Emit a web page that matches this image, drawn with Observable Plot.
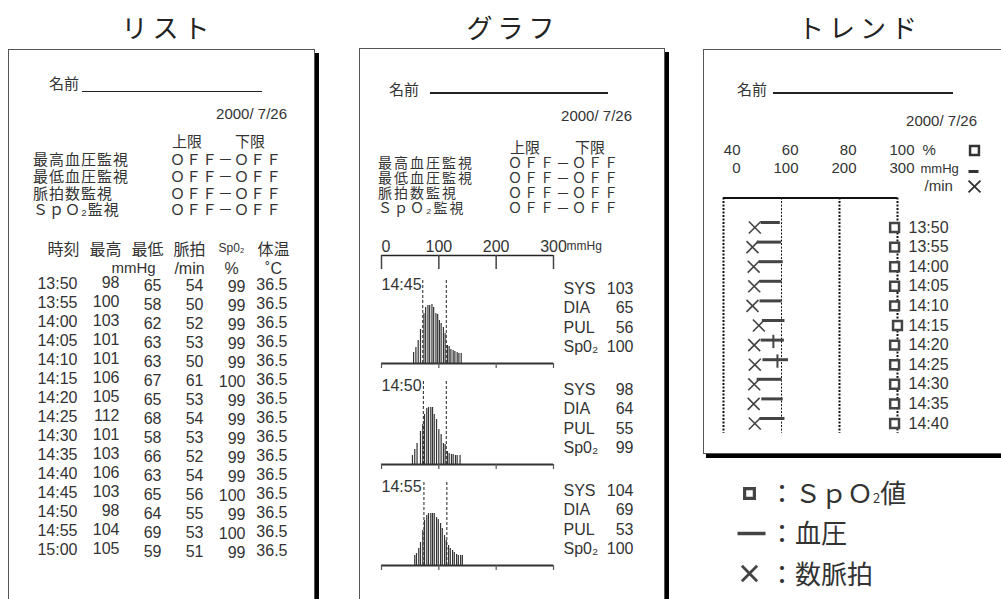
<!DOCTYPE html>
<html><head><meta charset="utf-8">
<script src="https://cdn.jsdelivr.net/npm/d3@7"></script>
<script src="https://cdn.jsdelivr.net/npm/@observablehq/plot@0.6"></script>
<style>
html,body{margin:0;padding:0;background:#fff;}
#root{position:relative;width:1001px;height:599px;overflow:hidden;background:#fff;font-family:"Noto Sans CJK JP",sans-serif;color:#333;}
.abs{position:absolute;white-space:nowrap;line-height:1;}
.panel{position:absolute;box-sizing:border-box;background:#fff;border:1px solid #555;box-shadow:4px 4px 0 #000;}
svg.ovl{position:absolute;left:0;top:0;pointer-events:none;}
</style></head>
<body><div id="root"></div>
<script>
// ---------- data ----------
const listTimes = ["13:50","13:55","14:00","14:05","14:10","14:15","14:20","14:25","14:30","14:35","14:40","14:45","14:50","14:55","15:00"];
const sysValues = [98,100,103,101,101,106,105,112,101,103,106,103,98,104,105];
const diaValues = [65,58,62,63,63,67,65,68,58,66,63,65,64,69,59];
const pulseValues = [54,50,52,53,50,61,53,54,53,52,54,56,55,53,51];
const spo2Values = [99,99,99,99,99,100,99,99,99,99,99,100,99,100,99];
const tempValues = [36.5,36.5,36.5,36.5,36.5,36.5,36.5,36.5,36.5,36.5,36.5,36.5,36.5,36.5,36.5];
const tableColumns = ["time","sys","dia","pul","spo2","temp"];
const tableHeaders = ["時刻","最高","最低","脈拍","Sp0₂","体温"];
const tableUnits = ["","mmHg","","/min","%","˚C"];

const panelTitles = ["リスト","グラフ","トレンド"];
const monitorLabels = ["最高血圧監視","最低血圧監視","脈拍数監視","ＳｐＯ₂監視"];
const monitorValue = "ＯＦＦ－ＯＦＦ";
const dateText = "2000/ 7/26";

const graphTimes = ["14:45","14:50","14:55"];
const graphSys = [103,98,104];
const graphDia = [65,64,69];
const graphPul = [56,55,53];
const graphSpo2 = [100,99,100];
const graphReadingLabels = ["SYS","DIA","PUL","Sp0₂"];
const graphTicks = [0,100,200,300];
const cuffLow = [72,73,74];
const cuffHigh = [113,113,114];
const histP1 = [56,60,64,68,74,77,81,84,88,91,95,98,101,104,108,111,115,118,121,125,128,132,135,139];
const histA1 = [11,16,23,34,50,56,58,58,59,56,50,49,43,40,36,30,18,17,14,13,12,11,10,10];
const histP2 = [54,58,62,68,72,75,79,82,86,89,92,96,100,104,108,111,115,118,122,125,129,132,137];
const histA2 = [9,15,21,33,40,50,56,57,57,57,50,45,35,30,21,20,13,11,10,10,9,9,9];
const histP3 = [58,61,65,68,72,75,79,82,86,89,92,96,99,103,106,110,113,117,120,124,127,131,134,138,141];
const histA3 = [10,12,17,23,35,45,50,52,52,52,52,48,46,42,37,30,25,20,17,15,13,11,10,10,10];

const trendTimes = ["13:50","13:55","14:00","14:05","14:10","14:15","14:20","14:25","14:30","14:35","14:40"];
const trendPctTicks = [40,60,80,100];
const trendBpTicks = [0,100,200,300];
const trendMeanMarks = [null,null,null,null,null,null,86,93,null,null,null];
const legendLabels = ['：ＳｐＯ<span style="font-size:13px">2</span>値', "：血圧", "：数脈拍"];

// ---------- helpers ----------
const CJK = '"Noto Sans CJK JP", sans-serif';
const SANS = '"Liberation Sans", Arial, sans-serif';
const INK = "#333";
const root = document.getElementById("root");

function label(text, x, y, o = {}) {
  const el = document.createElement("div");
  el.className = "abs";
  el.style.left = x + "px"; el.style.top = y + "px";
  el.style.fontSize = (o.size || 16) + "px";
  el.style.fontFamily = o.font || CJK;
  el.style.color = o.color || INK;
  if (o.ls) el.style.letterSpacing = o.ls + "px";
  if (o.weight) el.style.fontWeight = o.weight;
  const tx = o.anchor === "middle" ? "-50%" : o.anchor === "end" ? "-100%" : "0";
  el.style.transform = `translate(${tx},-50%)`;
  if (o.html) el.innerHTML = text; else el.textContent = text;
  root.appendChild(el);
}
function box(x, y, w, h, css) {
  const el = document.createElement("div");
  el.style.position = "absolute";
  el.style.left = x + "px"; el.style.top = y + "px";
  el.style.width = w + "px"; el.style.height = h + "px";
  Object.assign(el.style, css || {});
  root.appendChild(el);
  return el;
}
function panel(x, y, w, h) { const p = box(x, y, w, h); p.className = "panel"; }
function overlay(opts) {
  const svg = Plot.plot(Object.assign({
    width: 1001, height: 599, margin: 0,
    style: {background: "transparent", overflow: "visible"}
  }, opts));
  svg.classList.add("ovl");
  root.appendChild(svg);
}

// ---------- panels & static text ----------
panel(8, 49, 307, 560);
panel(359, 48, 306, 560);
box(703, 49, 320, 405, {boxSizing: "border-box", border: "1px solid #555", boxShadow: "3px 4px 0 #000", background: "#fff"});

const titleX = [165, 510, 857];
panelTitles.forEach((t, i) => label(t, titleX[i] + 3, 27, {size: 26, anchor: "middle", ls: 5, color: "#222"}));

const pane = [
  {nameX: 49, nameY: 82, lineX1: 82, lineX2: 262, lineY: 91, lineW: 1, dateR: 287, dateY: 113,
   limY: 140, upX: 172, loX: 235, rowX: 33, rowY: [158,175,192,208], rowSize: 15, rowLs: 1, valX: 170},
  {nameX: 389, nameY: 88, lineX1: 430, lineX2: 608, lineY: 92, lineW: 2, dateR: 632, dateY: 115,
   limY: 146, upX: 510, loX: 575, rowX: 378, rowY: [162,177,192,207], rowSize: 14, rowLs: 2, valX: 508},
  {nameX: 737, nameY: 88, lineX1: 773, lineX2: 953, lineY: 92, lineW: 1.5, dateR: 977, dateY: 120}
];
pane.forEach(p => {
  label("名前", p.nameX, p.nameY, {size: 15});
  box(p.lineX1, p.lineY, p.lineX2 - p.lineX1, p.lineW, {background: "#222"});
  label(dateText, p.dateR, p.dateY, {size: 15, font: SANS, anchor: "end"});
  if (p.rowY) {
    label("上限", p.upX, p.limY, {size: 15});
    label("下限", p.loX, p.limY, {size: 15});
    monitorLabels.forEach((m, i) => {
      label(m, p.rowX, p.rowY[i], {size: p.rowSize, ls: p.rowLs});
      label(monitorValue, p.valX, p.rowY[i], {size: p.rowSize, ls: p.rowLs});
    });
  }
});

// ---------- list table (Plot) ----------
const rows = listTimes.map((t, i) => ({
  time: t, sys: sysValues[i], dia: diaValues[i], pul: pulseValues[i],
  spo2: spo2Values[i], temp: tempValues[i].toFixed(1)
}));
const colDy = {time: 0, sys: -1, dia: 2, pul: 2, spo2: 3, temp: 1};
const headerData = tableColumns.map((c, i) => ({c, h: tableHeaders[i], u: tableUnits[i]}));
overlay({
  x: {type: "point", domain: tableColumns, range: [76, 287], padding: 0, axis: null},
  y: {type: "point", domain: listTimes, range: [279, 552], padding: 0, axis: null},
  marks: [
    ...tableColumns.map(c => Plot.text(rows, {
      x: () => c, y: "time", text: d => String(d[c]), textAnchor: "end",
      dy: colDy[c], fontSize: 16, fontFamily: SANS, fill: INK
    })),
    Plot.text(headerData.filter(d => d.c !== "spo2"), {x: "c", frameAnchor: "top", dy: 243, dx: -14, text: "h", fontSize: 16, fontFamily: CJK, fill: INK}),
    Plot.text(headerData.filter(d => d.c === "spo2"), {x: "c", frameAnchor: "top", dy: 243, dx: -14, text: "h", fontSize: 12, fontFamily: SANS, fill: INK}),
    Plot.text(headerData.filter(d => d.u === "mmHg"), {x: "c", frameAnchor: "top", dy: 262, dx: -8, text: "u", textAnchor: "start", fontSize: 15, fontFamily: SANS, fill: INK}),
    Plot.text(headerData.filter(d => d.u && d.u !== "mmHg"), {x: "c", frameAnchor: "top", dy: 262, dx: -14, text: "u", fontSize: 16, fontFamily: SANS, fill: INK})
  ]
});

// ---------- graph panel (Plot) ----------
overlay({
  x: {domain: [0, 300], range: [381, 553], axis: null},
  y: {domain: [0, 20], range: [269, 249], axis: null},
  marks: [
    Plot.ruleY([14], {x1: 0, x2: 300, stroke: "#222", strokeWidth: 1.5}),
    Plot.ruleX(graphTicks, {y1: 0, y2: 14, stroke: "#444", strokeWidth: 1.5}),
    Plot.text(graphTicks.filter(t => t > 0), {x: d => d, y: 23, text: d => String(d), fontSize: 16, fontFamily: SANS, fill: INK}),
    Plot.text(graphTicks.filter(t => t === 0), {x: d => d, y: 23, text: d => String(d), textAnchor: "start", fontSize: 16, fontFamily: SANS, fill: INK}),
    Plot.text(["mmHg"], {x: 300, y: 23, dx: 13, text: d => d, textAnchor: "start", fontSize: 12, fontFamily: SANS, fill: INK})
  ]
});
const histP = [histP1, histP2, histP3];
const histA = [histA1, histA2, histA3];
graphTimes.forEach((t, i) => {
  const base = 363 + i * 101;
  const hist = histP[i].map((p, j) => ({p, a: histA[i][j]}));
  const readings = [graphSys[i], graphDia[i], graphPul[i], graphSpo2[i]].map((v, j) => ({label: graphReadingLabels[j], value: String(v)}));
  overlay({
    x: {domain: [0, 300], range: [381, 553], axis: null},
    y: {domain: [0, 100], range: [base, base - 100], axis: null},
    marks: [
      Plot.ruleX(hist, {x: "p", y1: 0, y2: "a", stroke: "#333", strokeWidth: 1.2}),
      Plot.ruleX([cuffLow[i], cuffHigh[i]], {y1: 0, y2: 85, stroke: "#222", strokeWidth: 1, strokeDasharray: "3,2"}),
      Plot.ruleY([0], {x1: 0, x2: 300, stroke: "#333", strokeWidth: 2}),
      Plot.ruleX(graphTicks, {y1: 0, y2: -5, stroke: "#555", strokeWidth: 1.2}),
      Plot.text([t], {x: 0, y: 79, text: d => d, textAnchor: "start", fontSize: 16, fontFamily: SANS, fill: INK}),
      Plot.text(readings, {x: 300, y: (d, j) => 75 - 19.5 * j, dx: 10, text: "label", textAnchor: "start", fontSize: 16, fontFamily: SANS, fill: INK}),
      Plot.text(readings, {x: 300, y: (d, j) => 75 - 19.5 * j, dx: 80, text: "value", textAnchor: "end", fontSize: 16, fontFamily: SANS, fill: INK})
    ]
  });
});

// ---------- trend panel (Plot) ----------
const dash = {draw(ctx) { ctx.moveTo(-5, 0); ctx.lineTo(5, 0); }};
overlay({
  x: {domain: [0, 300], range: [723, 897], axis: null},
  y: {domain: [0, 2], range: [150, 186], axis: null},
  marks: [
    Plot.text(trendPctTicks, {x: d => (d - 40) * 5, y: 0, dx: 17, text: d => String(d), textAnchor: "end", fontSize: 15, fontFamily: SANS, fill: INK}),
    Plot.text(trendBpTicks, {x: d => d, y: 1, dx: 17, text: d => String(d), textAnchor: "end", fontSize: 15, fontFamily: SANS, fill: INK}),
    Plot.text(["%"], {x: 300, y: 0, dx: 25, text: d => d, textAnchor: "start", fontSize: 15, fontFamily: SANS, fill: INK}),
    Plot.text(["mmHg"], {x: 300, y: 1, dx: 23, text: d => d, textAnchor: "start", fontSize: 13, fontFamily: SANS, fill: INK}),
    Plot.text(["/min"], {x: 300, y: 2, dx: 27, text: d => d, textAnchor: "start", fontSize: 15, fontFamily: SANS, fill: INK}),
    Plot.dot([0], {x: 300, y: 0, dx: 77, symbol: "square", r: 5, stroke: "#333", strokeWidth: 2.5, fill: "white"}),
    Plot.dot([0], {x: 300, y: 1, dx: 76, dy: 3, symbol: dash, r: 4, stroke: "#333", strokeWidth: 3}),
    Plot.dot([0], {x: 300, y: 2, dx: 77, symbol: "times", r: 5.5, stroke: "#333", strokeWidth: 1.8})
  ]
});
const trendRows = trendTimes.map((t, i) => ({t, i, sys: sysValues[i], dia: diaValues[i], pul: pulseValues[i], spo2: spo2Values[i], mean: trendMeanMarks[i]}));
overlay({
  x: {domain: [0, 300], range: [723, 897], axis: null},
  y: {domain: [0, 10], range: [227, 423], axis: null},
  marks: [
    Plot.ruleX([0, 200, 300], {y1: -1.5, y2: 10.5, stroke: "#111", strokeWidth: 2, strokeDasharray: "2,1.5"}),
    Plot.ruleX([100], {y1: -1.5, y2: 10.5, stroke: "#111", strokeWidth: 1, strokeDasharray: "2,1.5"}),
    Plot.ruleY([-1.5], {x1: 0, x2: 300, stroke: "#111", strokeWidth: 2}),
    Plot.ruleY(trendRows, {y: "i", x1: "dia", x2: "sys", dy: -5, stroke: "#444", strokeWidth: 3}),
    Plot.ruleX(trendRows.filter(d => d.mean != null), {x: "mean", y1: d => d.i - 0.5, y2: d => d.i + 0.18, stroke: "#444", strokeWidth: 2}),
    Plot.dot(trendRows, {x: "pul", y: "i", symbol: "times", r: 5.5, stroke: "#444", strokeWidth: 1.6}),
    Plot.dot(trendRows, {x: d => (d.spo2 - 40) * 5, y: "i", symbol: "square", r: 5, stroke: "#444", strokeWidth: 2.5, fill: "white"}),
    Plot.text(trendRows, {x: 300, y: "i", dx: 11, text: "t", textAnchor: "start", fontSize: 16, fontFamily: SANS, fill: INK})
  ]
});

// ---------- legend (Plot symbols + text) ----------
const legendSymbols = ["square", dash, "times"];
overlay({
  x: {domain: [0, 1], range: [749, 750], axis: null},
  y: {type: "point", domain: [0, 1, 2], range: [492, 573], padding: 0, axis: null},
  marks: legendSymbols.map((s, i) => Plot.dot([i], {
    x: 0, y: d => d, symbol: s === dash ? {draw(ctx) { ctx.moveTo(-12, 0); ctx.lineTo(16, 0); }} : s,
    r: s === "times" ? 7 : 5.5, stroke: "#444", fill: s === "square" ? "white" : "none",
    strokeWidth: s === "times" ? 2.8 : s === dash ? 3.5 : 3.2
  }))
});
legendLabels.forEach((t, i) => label(t, 769, [492, 532, 573][i], {size: 26, html: true}));
</script>
</body></html>
